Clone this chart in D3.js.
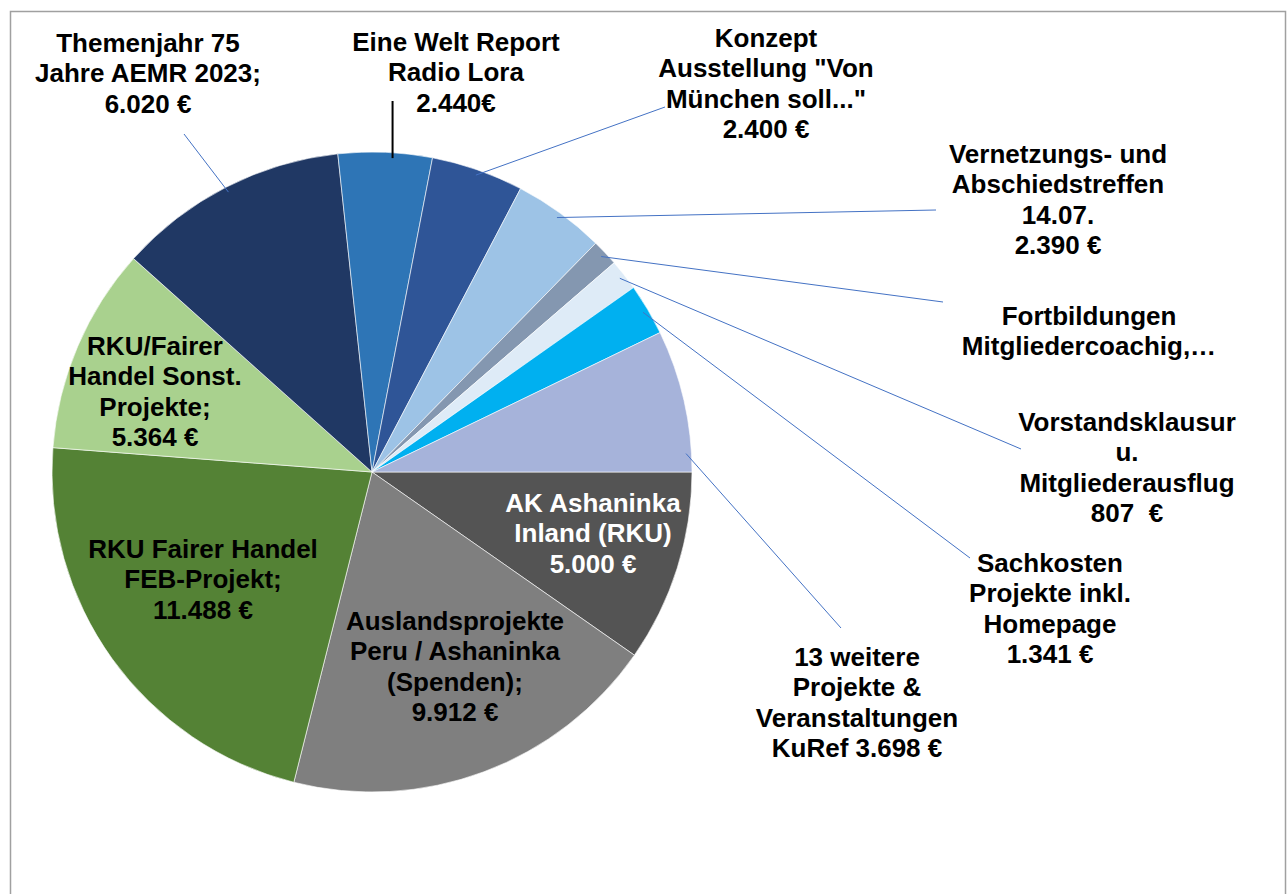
<!DOCTYPE html>
<html>
<head>
<meta charset="utf-8">
<script src="https://cdn.jsdelivr.net/npm/d3@7"></script>
<style>
  body { margin: 0; background: #fff; }
  text { font-family: "Liberation Sans", Arial, sans-serif; font-weight: bold; font-size: 26px; white-space: pre; }
</style>
</head>
<body>
<svg id="pie" width="1288" height="894"></svg>
<script>
// Werte in Euro, im Uhrzeigersinn ab 3 Uhr
const categories = [
  "AK Ashaninka Inland (RKU)",
  "Auslandsprojekte Peru / Ashaninka (Spenden)",
  "RKU Fairer Handel FEB-Projekt",
  "RKU/Fairer Handel Sonst. Projekte",
  "Themenjahr 75 Jahre AEMR 2023",
  "Eine Welt Report Radio Lora",
  "Konzept Ausstellung \"Von München soll...\"",
  "Vernetzungs- und Abschiedstreffen 14.07.",
  "Fortbildungen Mitgliedercoachig",
  "Vorstandsklausur u. Mitgliederausflug",
  "Sachkosten Projekte inkl. Homepage",
  "13 weitere Projekte & Veranstaltungen KuRef"
];
const values = [5000, 9912, 11488, 5364, 6020, 2440, 2400, 2390, 690, 807, 1341, 3698];
const colors = ["#545454", "#7f7f7f", "#548235", "#a9d18e", "#203864", "#2e75b6",
                "#2f5597", "#9dc3e6", "#8497b0", "#deebf7", "#00b0f0", "#a6b3da"];

// Beschriftungen, {v} = formatierter Wert
const labelLines = [
  ["AK Ashaninka", "Inland (RKU)", "{v} €"],
  ["Auslandsprojekte", "Peru / Ashaninka", "(Spenden);", "{v} €"],
  ["RKU Fairer Handel", "FEB-Projekt;", "{v} €"],
  ["RKU/Fairer", "Handel Sonst.", "Projekte;", "{v} €"],
  ["Themenjahr 75", "Jahre AEMR 2023;", "{v} €"],
  ["Eine Welt Report", "Radio Lora", "{v}€"],
  ["Konzept", "Ausstellung \"Von", "München soll...\"", "{v} €"],
  ["Vernetzungs- und", "Abschiedstreffen", "14.07.", "{v} €"],
  ["Fortbildungen", "Mitgliedercoachig,…"],
  ["Vorstandsklausur", "u.", "Mitgliederausflug", "{v}  €"],
  ["Sachkosten", "Projekte inkl.", "Homepage", "{v} €"],
  ["13 weitere", "Projekte &", "Veranstaltungen", "KuRef {v} €"]
];

// Layout: Textmitte x, erste Grundlinie y, Startpunkt Führungslinie, Lage am Bogen
const labelLayout = [
  { x: 593, y: 512 },
  { x: 455, y: 630 },
  { x: 203, y: 558 },
  { x: 155, y: 355 },
  { x: 148, y: 52, lead: [184, 134], frac: 0.5 },
  { x: 456, y: 51, lead: "vertical", top: 101, frac: 0.58, dark: true },
  { x: 766, y: 47, lead: [665, 107], frac: 0.5 },
  { x: 1058, y: 163, lead: [936, 210], frac: 0.5 },
  { x: 1089, y: 325, lead: [943, 302], frac: 0.5 },
  { x: 1127, y: 431, lead: [1021, 449], frac: 0.5 },
  { x: 1050, y: 572, lead: [970, 558], frac: 0.5 },
  { x: 857, y: 666, lead: [841, 628], frac: 0.87 }
];

const svg = d3.select("#pie");
const cx = 372, cy = 472, radius = 320;

svg.append("rect")
  .attr("x", 10.5).attr("y", 11.5).attr("width", 1275).attr("height", 890)
  .attr("fill", "#fff").attr("stroke", "#a0a0a0").attr("stroke-width", 1.5);

const fmt = d3.formatLocale({ decimal: ",", thousands: ".", grouping: [3], currency: ["", " €"] }).format(",d");

const pie = d3.pie().sort(null).startAngle(Math.PI / 2).endAngle(Math.PI / 2 + 2 * Math.PI);
const arcs = pie(values);
const arc = d3.arc().innerRadius(0).outerRadius(radius);

const g = svg.append("g").attr("transform", `translate(${cx},${cy})`);

g.selectAll("path")
  .data(arcs)
  .join("path")
  .attr("d", arc)
  .attr("fill", (d, i) => colors[i])
  .attr("stroke", "#fff")
  .attr("stroke-width", 0.6);

// Führungslinien
arcs.forEach((d, i) => {
  const lay = labelLayout[i];
  if (!lay.lead) return;
  const a = d.startAngle + (d.endAngle - d.startAngle) * lay.frac;
  const r = radius * 0.983;
  const ex = cx + r * Math.sin(a), ey = cy - r * Math.cos(a);
  const start = lay.lead === "vertical" ? [ex, lay.top] : lay.lead;
  svg.append("line")
    .attr("x1", start[0]).attr("y1", start[1])
    .attr("x2", ex).attr("y2", ey)
    .attr("stroke", lay.dark ? "#000" : "#4472c4")
    .attr("stroke-width", lay.dark ? 2 : 1);
});

// Beschriftungen
labelLines.forEach((lines, i) => {
  const lay = labelLayout[i];
  const t = svg.append("text")
    .attr("text-anchor", "middle")
    .attr("fill", i === 0 ? "#fff" : "#000");
  lines.forEach((ln, j) => {
    t.append("tspan")
      .attr("x", lay.x)
      .attr("y", lay.y + j * 30.3)
      .text(ln.replace("{v}", fmt(values[i])));
  });
});
</script>
</body>
</html>
